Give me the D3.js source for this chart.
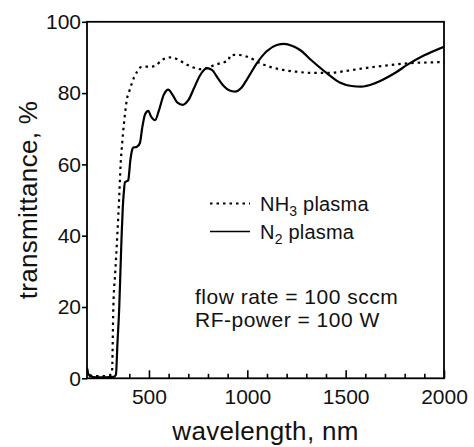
<!DOCTYPE html>
<html>
<head>
<meta charset="utf-8">
<script src="https://cdn.jsdelivr.net/npm/d3@7"></script>
<style>
  html, body { margin: 0; padding: 0; background: #fff; }
  svg { display: block; font-family: "Liberation Sans", Arial, sans-serif; }
</style>
</head>
<body>
<svg id="chart" width="474" height="447"></svg>
<script>
// ---- data ----
const nh3Wavelength = [185, 192, 205, 230, 270, 300, 312, 319, 329, 339, 348, 356, 364, 372, 380, 387, 400, 412, 425, 440, 463, 500, 531, 560, 590, 607, 630, 660, 700, 730, 760, 794, 830, 870, 895, 905, 912, 935, 953, 1000, 1065, 1120, 1181, 1250, 1319, 1420, 1500, 1607, 1700, 1827, 1920, 2000];
const nh3Transmittance = [2.5, 1.2, 0.8, 0.6, 0.6, 0.8, 1.5, 20, 30, 40, 50, 60, 66, 71, 75, 78, 80.5, 82.6, 84.5, 86, 87.4, 87.4, 87.6, 89, 89.9, 90, 89.8, 89, 87.8, 87.1, 86.7, 87, 87.8, 88.5, 88.9, 89.2, 90.5, 90.7, 90.7, 90.2, 88.4, 87.3, 86.5, 86, 85.7, 85.7, 86.2, 87.1, 87.7, 88.4, 88.6, 88.7];

const n2Wavelength = [185, 192, 205, 230, 280, 320, 332, 340, 349, 355, 361, 367, 372, 378, 388, 395, 400, 405, 412, 420, 430, 440, 454, 465, 480, 497, 510, 531, 550, 575, 598, 620, 645, 672, 700, 730, 760, 794, 820, 850, 880, 910, 937, 970, 1000, 1050, 1100, 1150, 1187, 1230, 1268, 1330, 1404, 1470, 1530, 1578, 1650, 1740, 1827, 1900, 2000];
const n2Transmittance = [3, 1.2, 0.5, 0.3, 0.3, 0.4, 1, 10, 20, 30, 40, 48, 52, 55, 55.3, 55.6, 58, 61, 63.5, 64.7, 64.8, 65, 66, 70, 74, 75, 73.5, 72.4, 75, 79.5, 81, 79.5, 77.3, 76.7, 78, 81.5, 85, 87, 86.5, 84.2, 82, 80.7, 80.4, 81.5, 84, 88.5, 91.8, 93.5, 93.8, 93.2, 92.1, 89, 85.6, 83, 82, 81.8, 82.8, 85.3, 88.4, 90.6, 93];

const xMajorTicks = [500, 1000, 1500, 2000];
const xMinorTicks = [300, 400, 600, 700, 800, 900, 1100, 1200, 1300, 1400, 1600, 1700, 1800, 1900];
const yTicks = [0, 20, 40, 60, 80, 100];
const xDomain = [185, 2000];
const yDomain = [0, 100];

const legendLabels = [{main: "NH", sub: "3", rest: " plasma", dash: "2.5,4"},
                      {main: "N", sub: "2", rest: " plasma", dash: null}];
const noteLines = ["flow rate = 100 sccm", "RF-power = 100 W"];

// ---- layout ----
const svg = d3.select("#chart");
const L = 87, R = 444, T = 21.8, B = 378.3;

const x = d3.scaleLinear().domain(xDomain).range([L, R]);
const y = d3.scaleLinear().domain(yDomain).range([B, T]);

// x axis: inward ticks
const gx = svg.append("g").attr("transform", `translate(0,${B})`);
gx.call(d3.axisBottom(x).tickValues(xMinorTicks).tickSize(-4.5).tickFormat(""));
gx.call(g => g.select(".domain").remove());
const gx2 = svg.append("g").attr("transform", `translate(0,${B})`);
gx2.call(d3.axisBottom(x).tickValues(xMajorTicks).tickSize(-8).tickPadding(11).tickFormat(d3.format("d")));
gx2.select(".domain").remove();

// y axis: outward ticks
const gy = svg.append("g").attr("transform", `translate(${L},0)`);
gy.call(d3.axisLeft(y).tickValues(yTicks).tickSize(5).tickPadding(1));
gy.select(".domain").remove();

svg.selectAll(".tick line").attr("stroke", "#000").attr("stroke-width", 1.6);
svg.selectAll(".tick text").attr("font-size", 21).attr("fill", "#111")
   .attr("font-family", "Liberation Sans, Arial, sans-serif");

// frame
svg.append("rect").attr("x", L).attr("y", T).attr("width", R - L).attr("height", B - T)
   .attr("fill", "none").attr("stroke", "#000").attr("stroke-width", 1.8);

// curves
const line = d3.line().x(d => x(d[0])).y(d => y(d[1])).curve(d3.curveMonotoneX);
svg.append("clipPath").attr("id", "clip").append("rect")
   .attr("x", L).attr("y", T - 2).attr("width", R - L).attr("height", B - T + 2);

svg.append("path")
   .datum(nh3Wavelength.map((w, i) => [w, nh3Transmittance[i]]))
   .attr("d", line).attr("fill", "none").attr("stroke", "#000")
   .attr("stroke-width", 2.2).attr("stroke-dasharray", "2.5,4")
   .attr("clip-path", "url(#clip)");

svg.append("path")
   .datum(n2Wavelength.map((w, i) => [w, n2Transmittance[i]]))
   .attr("d", line).attr("fill", "none").attr("stroke", "#000")
   .attr("stroke-width", 2.2)
   .attr("clip-path", "url(#clip)");

// legend
const legY = [203.5, 231.5];
legendLabels.forEach((lg, i) => {
  svg.append("line").attr("x1", 210).attr("x2", 250).attr("y1", legY[i]).attr("y2", legY[i])
     .attr("stroke", "#000").attr("stroke-width", lg.dash ? 2 : 1.6)
     .attr("stroke-dasharray", lg.dash);
  const t = svg.append("text").attr("x", 260).attr("y", legY[i] + 7)
     .attr("font-size", 20).attr("fill", "#111").attr("letter-spacing", 0.2);
  t.append("tspan").text(lg.main);
  t.append("tspan").attr("font-size", 14).attr("dy", 5).text(lg.sub);
  t.append("tspan").attr("dy", -5).text(lg.rest);
});

// annotation
noteLines.forEach((s, i) => {
  svg.append("text").attr("x", 195).attr("y", 304 + i * 23)
     .attr("font-size", 21).attr("letter-spacing", 0.5).attr("fill", "#111").text(s);
});

// axis titles
svg.append("text").attr("x", (L + R) / 2).attr("y", 440).attr("text-anchor", "middle")
   .attr("font-size", 26).attr("letter-spacing", 0.3).attr("fill", "#111").text("wavelength, nm");
svg.append("text").attr("transform", `translate(37,${(T + B) / 2}) rotate(-90)`)
   .attr("text-anchor", "middle").attr("font-size", 26).attr("letter-spacing", 0.3).attr("fill", "#111")
   .text("transmittance, %");
</script>
</body>
</html>
